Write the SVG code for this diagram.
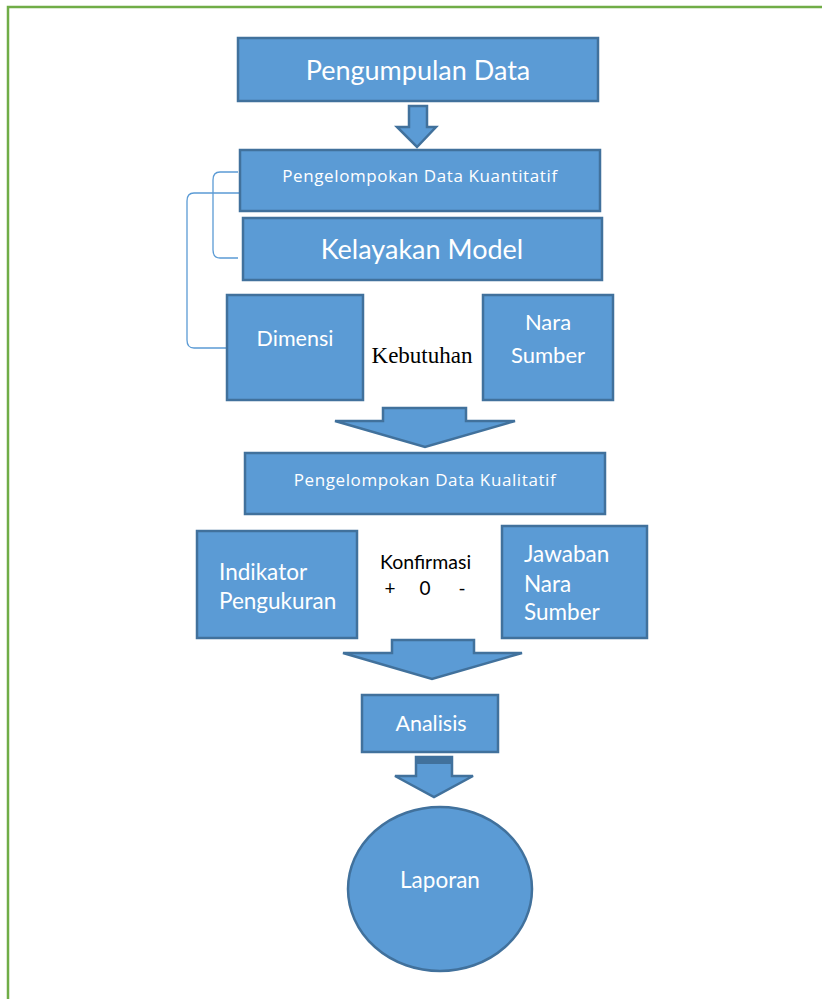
<svg xmlns="http://www.w3.org/2000/svg" width="822" height="999" viewBox="0 0 822 999">
<style>
.box{fill:#5b9bd5;stroke:#41719c;stroke-width:2.5}
.arr{fill:#5b9bd5;stroke:#41719c;stroke-width:2.5;stroke-linejoin:miter}
.w{fill:#ffffff;font-family:Lato,"Open Sans",sans-serif}
.o{fill:#ffffff;font-family:"Open Sans",Lato,sans-serif}
.k{fill:#000000;font-family:Lato,"Open Sans",sans-serif}
.br{fill:none;stroke:#5b9bd5;stroke-width:1.3}
</style>
<rect x="0" y="0" width="822" height="999" fill="#ffffff"/>
<rect x="8" y="7" width="830" height="1000" fill="none" stroke="#70ad47" stroke-width="2.5"/>
<g id="connectors">
<path class="arr" d="M409,106 H427 V127 H436 L417,147 L397,127 H409 Z"/>
<path class="arr" d="M383,408 H466 V421 H515 L425,447 L335,421 H383 Z"/>
<path class="arr" d="M392,640 H474 V653 H522 L432,679 L343,653 H392 Z"/>
<path class="arr" d="M416,757 H452 V776 H473 L434,797 L395,776 H416 Z"/>
<rect x="416" y="757" width="36" height="7" fill="#41719c"/>
<path class="br" d="M238,172 H220 Q213,172 213,180 V250 Q213,258 220,258 H238"/>
<path class="br" d="M242,193 H194 Q187,193 187,201 V340 Q187,348 194,348 H228"/>
</g>
<g id="pengumpulan">
<rect class="box" x="238" y="38" width="360" height="63"/>
<text class="w" x="418" y="80" font-size="27" text-anchor="middle">Pengumpulan Data</text>
</g>
<g id="kuantitatif">
<rect class="box" x="240" y="150" width="360" height="61"/>
<text class="o" x="420" y="182" font-size="17" letter-spacing="0.6" text-anchor="middle">Pengelompokan Data Kuantitatif</text>
</g>
<g id="kelayakan">
<rect class="box" x="243" y="218" width="359" height="62"/>
<text class="w" x="422" y="259" font-size="27" text-anchor="middle">Kelayakan Model</text>
</g>
<g id="dimensi">
<rect class="box" x="227" y="295" width="136" height="105"/>
<text class="w" x="295" y="346" font-size="21.5" text-anchor="middle">Dimensi</text>
</g>
<g id="kebutuhan">
<text x="422" y="363" font-size="23" text-anchor="middle" fill="#000" font-family="'Liberation Serif',serif">Kebutuhan</text>
</g>
<g id="narasumber">
<rect class="box" x="483" y="295" width="130" height="105"/>
<text class="w" x="548" y="330" font-size="22" text-anchor="middle">Nara</text>
<text class="w" x="548" y="363" font-size="22" text-anchor="middle">Sumber</text>
</g>
<g id="kualitatif">
<rect class="box" x="245" y="453" width="360" height="61"/>
<text class="o" x="425" y="486" font-size="17" letter-spacing="0.6" text-anchor="middle">Pengelompokan Data Kualitatif</text>
</g>
<g id="indikator">
<rect class="box" x="197" y="531" width="160" height="107"/>
<text class="w" x="219" y="580" font-size="22.5">Indikator</text>
<text class="w" x="219" y="609" font-size="22.5">Pengukuran</text>
</g>
<g id="konfirmasi">
<text class="k" x="380" y="569" font-size="19.5">Konfirmasi</text>
<text class="k" x="390" y="595" font-size="19" text-anchor="middle">+</text>
<text class="k" x="425" y="595" font-size="19" text-anchor="middle">0</text>
<text class="k" x="462" y="595" font-size="19" text-anchor="middle">-</text>
</g>
<g id="jawaban">
<rect class="box" x="502" y="526" width="145" height="112"/>
<text class="w" x="524" y="562" font-size="22.5">Jawaban</text>
<text class="w" x="524" y="592" font-size="22.5">Nara</text>
<text class="w" x="524" y="620" font-size="22.5">Sumber</text>
</g>
<g id="analisis">
<rect class="box" x="362" y="695" width="136" height="57"/>
<text class="w" x="431" y="731" font-size="21.5" text-anchor="middle">Analisis</text>
</g>
<g id="laporan">
<ellipse class="box" cx="440" cy="889" rx="92" ry="82"/>
<text class="w" x="440" y="888" font-size="22.5" text-anchor="middle">Laporan</text>
</g>
</svg>
